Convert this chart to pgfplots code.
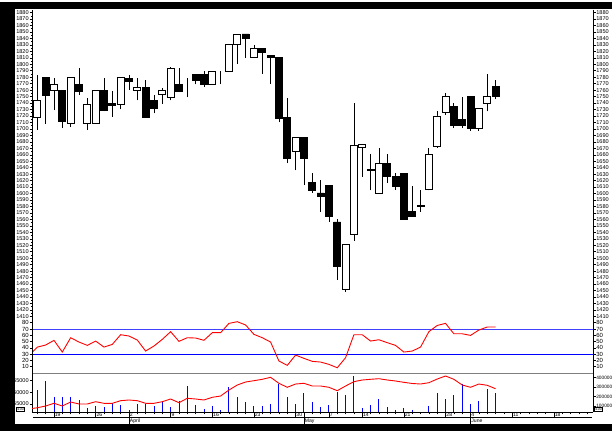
\documentclass[border=0pt]{standalone}
\usepackage{pgfplots}
\pgfplotsset{compat=1.18}
\usepackage{pgfplotstable}
\usepackage{fontspec}
\setmainfont{Liberation Sans}
\newcommand\tk{\fontsize{5.6}{6}\selectfont}
\newcommand\tkr{\fontsize{6}{6.5}\selectfont}
\newcommand\tkv{\fontsize{4.8}{5}\selectfont}
\newcommand\tkd{\fontsize{5.1}{5.5}\selectfont}

\pgfplotstableread{
i open high low close
-2 1718 1784 1698 1744
-1 1779 1780 1708 1752
0 1759 1779 1729 1769
1 1759 1760 1702 1712
2 1708 1780 1703 1779
3 1769 1794 1753 1758
4 1709 1748 1698 1738
5 1709 1760 1708 1759
6 1759 1779 1727 1728
7 1740 1759 1719 1737
8 1738 1780 1730 1779
9 1778 1784 1760 1773
10 1759 1779 1744 1764
11 1764 1775 1717 1718
12 1744 1753 1724 1732
13 1753 1764 1739 1760
14 1749 1795 1744 1794
15 1769 1794 1757 1758
16 1774.5 1779 1749 1774.5
17 1784 1785 1769 1775
18 1784 1789 1765 1769
19 1769 1789 1769 1789
20 1789 1789 1769 1789
21 1789 1831 1789 1831
22 1831 1847 1801 1847
23 1847 1847 1810 1840
24 1810 1830 1810 1825
25 1825 1825 1785 1819
26 1814 1815 1770 1810
27 1810 1810 1710 1716
28 1718 1748 1647 1655
29 1666 1688 1636 1687
30 1687 1688 1613 1655
31 1617 1631 1601 1605
32 1601 1621 1572 1596
33 1612 1612 1556 1565
34 1556 1560 1467 1487
35 1452 1522 1448 1522
36 1537 1740 1527 1675
37 1672 1677 1626 1676
38 1637 1661 1605 1636
39 1601 1670 1600 1647
40 1647 1661 1617 1626
41 1626 1631 1606 1611
42 1631 1631 1560 1560
43 1572 1611 1565 1565
44 1581 1605 1572 1580
45 1606 1670 1605 1661
46 1673 1727 1671 1720
47 1725 1755 1722 1750
48 1735 1740 1701 1705
49 1715 1750 1701 1705
50 1750 1750 1697 1701
51 1701 1731 1697 1731
52 1740 1785 1727 1750
53 1766 1776 1746 1750
}\candles

\pgfplotstableread{
i rsi
-3 28
-2 41.2
-1 44.5
0 51.9
1 33.3
2 56.1
3 49.2
4 43.9
5 50.8
6 41.2
7 45.5
8 60.9
9 58.8
10 52.4
11 34.9
12 42.9
13 53.5
14 65.7
15 50.3
16 56.1
17 55.6
18 52
19 64.1
20 64.1
21 78.9
22 81.6
23 76.4
24 61.4
25 56.1
26 49.2
27 19.1
28 12.1
29 28.5
30 23.3
31 18.5
32 17.4
33 13.7
34 8.3
35 24.3
36 60.9
37 60.9
38 50.8
39 52.9
40 48.2
41 43.9
42 33.3
43 34.9
44 41.2
45 65.7
46 75.6
47 78.9
48 62.4
49 62.4
50 59.8
51 68.3
52 73.1
53 73.1
}\rsidata

\pgfplotstableread{
i vol
-2 268300
-1 367000
0 190900
1 197200
2 190900
3 162200
4 80600
5 101800
6 88000
7 127000
8 109000
9 56000
10 119800
11 116600
12 101800
13 144200
14 91200
15 154800
16 310700
17 109000
18 66800
19 98600
20 56000
21 296900
22 197200
23 141000
24 98600
25 101800
26 119800
27 331900
28 190900
29 119800
30 239700
31 141000
32 84800
33 109000
34 250300
35 215300
36 420000
37 74200
38 109000
39 172900
40 84800
41 56000
42 74200
43 56000
44 36000
45 98600
46 233300
47 176000
48 215300
49 331900
50 119800
51 154800
52 275700
53 233300
}\voldata

\pgfplotstableread{
i ma
-3 52880
-2 53400
-1 54140
0 55300
1 54140
2 55860
3 55000
4 55000
5 55990
6 55300
7 55300
8 56420
9 56720
10 56420
11 55300
12 55300
13 55990
14 57150
15 55560
16 57450
17 57150
18 56720
19 57870
20 58430
21 61000
22 63150
23 64440
24 65000
25 65600
26 66460
27 63880
28 62170
29 63580
30 63880
31 62730
32 62730
33 62170
34 60710
35 62730
36 64580
37 65300
38 65600
39 65860
40 65300
41 64870
42 64300
43 63800
44 63580
45 64140
46 65720
47 67020
48 65600
49 63150
50 62170
51 63580
52 63020
53 61570
}\madata

\pgfplotsset{
  base/.style={scale only axis, width=561bp, xmin=-2.64, xmax=64.7,
    anchor=south west,
    tick align=outside, major tick length=2.5bp, minor tick length=1.2bp,
    tick style={black, line width=0.5bp},
    axis line style={black, line width=0.8bp},
    hide x axis,
    /pgf/number format/assume math mode=true,
    /pgf/number format/fixed, /pgf/number format/precision=0,
    /pgf/number format/1000 sep={},
    scaled y ticks=false,
    yticklabel style={font=\tk, inner sep=0.6bp},
  },
  priceax/.style={base, at={(32bp,111bp)}, height=310bp,
    ymin=1404.4, ymax=1883.9, ytick={1410,1420,...,1880}, minor y tick num=1},
  rsiax/.style={base, at={(32bp,57.7bp)}, height=53.3bp,
    ymin=-0.5, ymax=84.3, ytick={10,20,...,80}, yticklabel style={font=\tkr}},
  volax/.style={base, at={(32bp,18.7bp)}, height=39bp},
  dateax/.style={scale only axis, width=561bp, height=39bp, at={(32bp,18.7bp)},
    anchor=south west, xmin=-2.64, xmax=64.7, ymin=0, ymax=1,
    axis x line*=bottom, axis y line=none, tick align=outside,
    tick style={black, line width=0.5bp},
    axis line style={black, line width=0.8bp}},
}

\begin{document}
\begin{tikzpicture}
\useasboundingbox (0,0) rectangle (612bp,431bp);

% price: wicks (right labels)
\begin{axis}[priceax, ytick pos=right, yticklabel pos=right]
\addplot[draw=none, mark=none, error bars/.cd, y dir=plus, y explicit,
  error mark=none, error bar style={draw=black, line width=0.8bp, solid}]
  table[x=i, y=low, y error expr={\thisrow{high}-\thisrow{low}}] {\candles};
\end{axis}
% price: bodies (left labels)
\begin{axis}[priceax, ytick pos=left, yticklabel pos=left, ybar stacked, bar width=0.84]
\addplot[draw=none, fill=none, mark=none] table[x=i, y expr={min(\thisrow{open},\thisrow{close})}] {\candles};
\addplot[draw=black, fill=black, line width=0.7bp, mark=none] table[x=i, y expr={max(\thisrow{open}-\thisrow{close},0)}] {\candles};
\addplot[draw=black, fill=white, line width=0.7bp, mark=none] table[x=i, y expr={max(\thisrow{close}-\thisrow{open},0)}] {\candles};
\end{axis}

% RSI
\begin{axis}[rsiax, ytick pos=left, yticklabel pos=left]
\addplot[blue!75, line width=0.7bp] coordinates {(-2.64,70) (64.7,70)};
\addplot[blue, line width=1.1bp] coordinates {(-2.64,30) (64.7,30)};
\addplot[gray, line width=0.8bp] coordinates {(-2.64,0) (64.7,0)};
\addplot[red, line width=0.9bp] table[x=i, y=rsi] {\rsidata};
\end{axis}
\begin{axis}[rsiax, ytick pos=right, yticklabel pos=right]
\addplot[draw=none] coordinates {(0,40)};
\end{axis}

% volume bars (right labels)
\begin{axis}[volax, ymin=31800, ymax=445400, ytick={100000,200000,300000,400000},
  yticklabels={100000,200000,300000,400000}, ytick pos=right, yticklabel pos=right,
  yticklabel style={font=\tkv}]
\addplot[ycomb, blue, line width=0.9bp, mark=none] table[x=i, y=vol] {\voldata};
\end{axis}
% volume moving average (left labels)
\begin{axis}[volax, ymin=51438, ymax=68176, ytick={55000,60000,65000},
  yticklabels={55000,60000,65000}, ytick pos=left, yticklabel pos=left]
\addplot[red, line width=0.9bp, mark=none] table[x=i, y=ma] {\madata};
\end{axis}

% date axis
\begin{axis}[dateax, major tick length=5bp, minor tick length=2bp,
  xtick={0,5,9,14,19,24,29,33,37,42,47,50,55,60},
  xticklabels={19,26,2,9,16,23,30,7,14,21,28,4,11,18},
  minor xtick={-2,-1,...,64},
  xticklabel style={font=\tkd, anchor=west, inner sep=0.4bp, yshift=2.4bp, xshift=0.3bp}]
\addplot[draw=none] coordinates {(0,0.5)};
\end{axis}
% month axis
\begin{axis}[dateax, major tick length=13bp, xtick={9,30,50},
  xticklabels={April,May,June},
  xticklabel style={font=\tkd, anchor=west, inner sep=0.4bp, yshift=4.3bp, xshift=0.3bp}]
\addplot[draw=none] coordinates {(0,0.5)};
\end{axis}

\draw[black, line width=0.8bp] (33.3bp,13.7bp) -- (591.7bp,13.7bp);

% frame
\fill[black] (0,0) rectangle (612bp,6.5bp);
\fill[black] (0,0) rectangle (15bp,429.3bp);
\fill[black] (0,421.8bp) rectangle (612bp,429.3bp);

\node[draw=black, fill=white, line width=0.4bp, inner sep=0.5bp, font=\fontsize{3.5}{4}\selectfont, anchor=west] at (15.5bp,21.8bp) {x100};
\node[draw=black, fill=white, line width=0.4bp, inner sep=0.5bp, font=\fontsize{3.5}{4}\selectfont, anchor=west] at (593.5bp,21.8bp) {x100};
\end{tikzpicture}
\end{document}
